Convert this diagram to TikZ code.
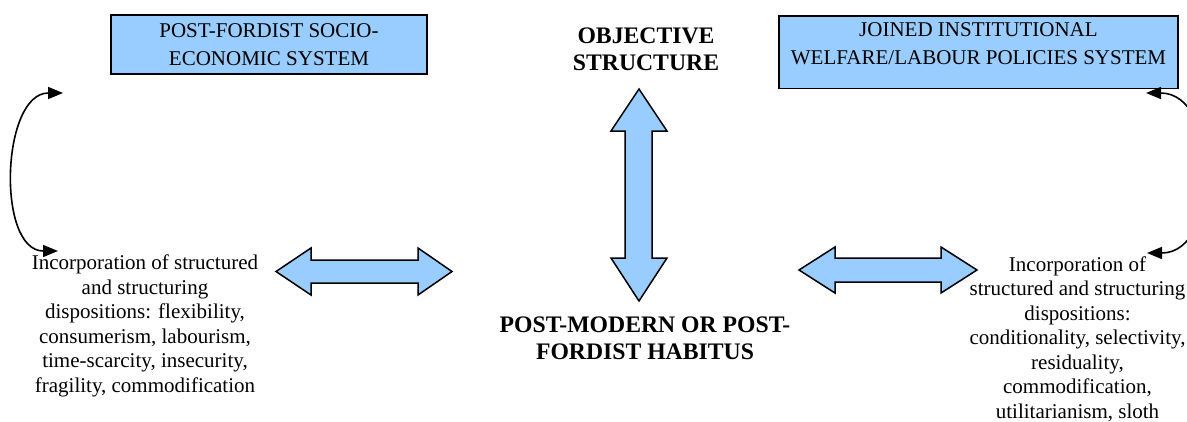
\documentclass[tikz,border=0pt]{standalone}
\usepackage{fontspec}
\setmainfont{Liberation Serif}
\usepackage{xcolor}
\usepackage{tikz}
\usetikzlibrary{arrows.meta}

\definecolor{boxblue}{HTML}{99CCFF}

\begin{document}
\begin{tikzpicture}[x=1pt,y=-1pt,
		sysbox/.style={draw=black,line width=1.5pt,fill=boxblue,align=center,inner sep=0pt,font=\fontsize{21}{28}\selectfont},
		title/.style={align=center,font=\bfseries\fontsize{23.7}{26.5}\selectfont},
		disp/.style={align=center,inner sep=0pt,font=\fontsize{21}{24.5}\selectfont},
		blockarrow/.style={draw=black,line width=1.5pt,fill=boxblue,line join=miter},
		loop/.style={line width=1.6pt,{Triangle[length=15pt,width=12pt]}-{Triangle[length=15pt,width=12pt]}}
	]
		\useasboundingbox (0,0) rectangle (1187,421);
		
		\node [sysbox,minimum width=316pt,minimum height=59pt] (socio) at (269,44.5) {POST-FORDIST SOCIO-\\ECONOMIC SYSTEM};
		\node [sysbox,anchor=north,minimum width=399pt,inner ysep=7pt,text depth=17pt] (welfare) at (978.5,15) {JOINED INSTITUTIONAL\\WELFARE/LABOUR POLICIES SYSTEM};
		
		\node [title] (objective) at (646,49.5) {OBJECTIVE\\STRUCTURE};
		\node [title] (habitus) at (645,338.5) {POST-MODERN OR POST-\\FORDIST HABITUS};
		
		\node [disp] (leftdisp) at (145,326) {Incorporation of structured\\and structuring\\dispositions: flexibility,\\consumerism, labourism,\\time-scarcity, insecurity,\\fragility, commodification};
		\node [disp] (rightdisp) at (1077.5,339) {Incorporation of\\structured and structuring\\dispositions:\\conditionality, selectivity,\\residuality,\\commodification,\\utilitarianism, sloth};
		
		% block arrows
		\draw [blockarrow] (639,89) -- (667,131) -- (652,131) -- (652,258) -- (667,258) -- (639,301) -- (611,258) -- (625,258) -- (625,131) -- (611,131) -- cycle;
		\draw [blockarrow] (276,271.5) -- (311,248) -- (311,260) -- (418,260) -- (418,248) -- (452,271.5) -- (418,295) -- (418,283) -- (311,283) -- (311,295) -- cycle;
		\draw [blockarrow] (799,270) -- (835,247) -- (835,258) -- (941,258) -- (941,247) -- (977,270) -- (941,293) -- (941,282) -- (835,282) -- (835,293) -- cycle;
		
		% feedback loops
		\coordinate (lt) at (63,93);
		\coordinate (lb) at (58,251);
		\coordinate (rt) at (1146,93);
		\coordinate (rb) at (1147,253);
		\draw [loop] (lt) to [out=180,in=180,looseness=1.0] (lb);
		\draw [loop] (rt) to [out=0,in=0,looseness=1.2] (rb);
\end{tikzpicture}
\end{document}
